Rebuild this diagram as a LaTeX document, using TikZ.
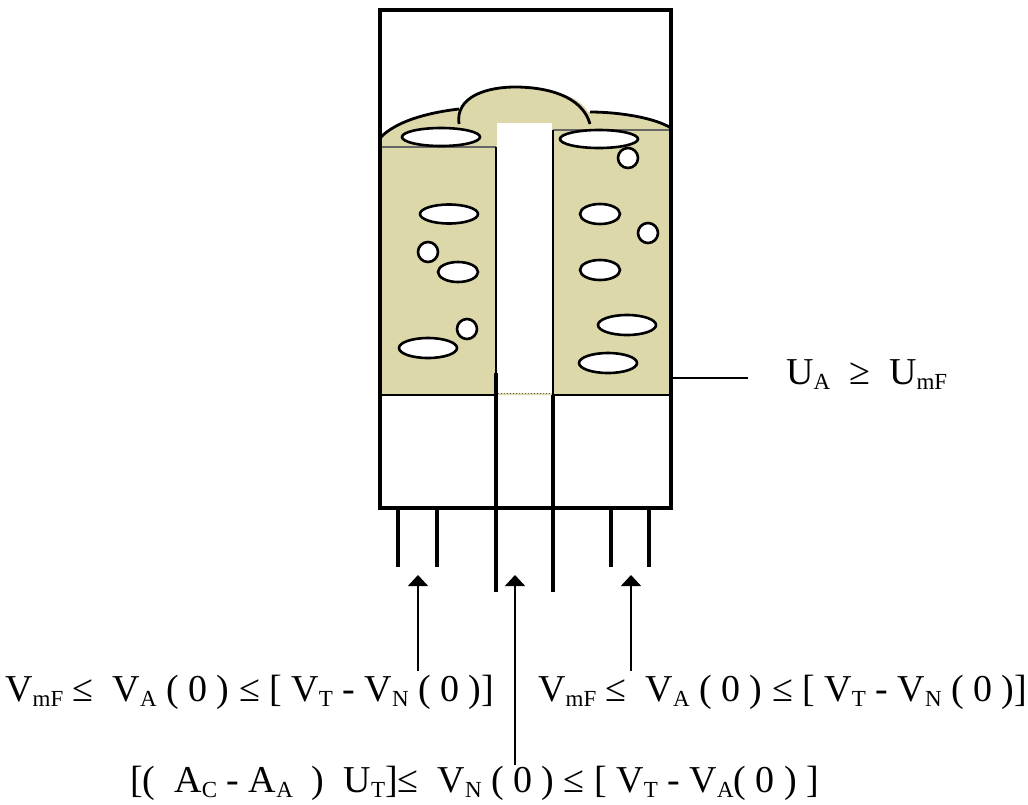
\documentclass[tikz,border=0pt]{standalone}
\usepackage{fontspec}
\setmainfont{Liberation Serif}
\usetikzlibrary{arrows.meta}

\definecolor{bedfill}{RGB}{220,216,170}
\newcommand{\lo}[1]{\raisebox{-0.3ex}{\fontsize{23}{23}\selectfont #1}}

\begin{document}
\begin{tikzpicture}[x=1pt,y=-1pt,
  wall/.style={line width=3.5pt},
  thinwall/.style={line width=1.3pt},
  bubble/.style={draw,line width=2.6pt,fill=white},
  feed/.style={line width=1.5pt,-{Triangle[length=11pt,width=20pt]}},
  formula/.style={font=\fontsize{38}{40}\selectfont,inner sep=0pt,anchor=base west}]

\useasboundingbox (0,0) rectangle (1028,804);

% Column walls and channel
\def\lft{380}
\def\rgt{671}
\def\chl{496}
\def\chr{553}
% Bed level
\def\bed{395}

% Bed with foam on top
\fill[bedfill] (\lft,\bed) -- (\lft,138) .. controls (395,122) and (425,113) .. (459,110)
  .. controls (466,92) and (490,87) .. (515,87) .. controls (545,87) and (580,95) .. (588,112)
  .. controls (620,112) and (655,118) .. (\rgt,128) -- (\rgt,\bed) -- cycle;
\fill[white] (\chl+1,123) rectangle (\chr-1,\bed-2);

% Foam outline
\draw[line width=2.8pt] (\lft,138) .. controls (395,122) and (425,113) .. (459,109);
\draw[line width=2.8pt] (459,124) .. controls (455,96) and (488,87) .. (515,87)
  .. controls (545,87) and (582,95) .. (590,124);
\draw[line width=2.8pt] (590,112) .. controls (620,112) and (655,118) .. (\rgt,128);

% Top of the two beds
\draw[thinwall,black!60] (\lft,147) -- (\chl,147);
\draw[thinwall,black!60] (\chr,130) -- (\rgt,130);

% Bubbles, left column
\draw[bubble] (441,137) ellipse [x radius=39, y radius=9];
\draw[bubble] (449,214) ellipse [x radius=29, y radius=9.5];
\draw[bubble] (428,252) circle [radius=10];
\draw[bubble] (458,272) ellipse [x radius=20, y radius=10];
\draw[bubble] (467,329) circle [radius=10];
\draw[bubble] (428,348) ellipse [x radius=29, y radius=10];

% Bubbles, right column
\draw[bubble] (599,139) ellipse [x radius=39, y radius=9];
\draw[bubble] (628,158) circle [radius=10];
\draw[bubble] (600,214) ellipse [x radius=20, y radius=10];
\draw[bubble] (648,233) circle [radius=10];
\draw[bubble] (600,270) ellipse [x radius=20, y radius=10];
\draw[bubble] (627,325) ellipse [x radius=29, y radius=10];
\draw[bubble] (608,363) ellipse [x radius=29, y radius=10];

% Outer box
\draw[wall] (\lft,508) -- (\lft,10) -- (\rgt,10) -- (\rgt,508) -- cycle;

% Channel walls
\draw[thinwall] (\chl,147) -- (\chl,373);
\draw[wall] (\chl,373) -- (\chl,592);
\draw[thinwall] (\chr,130) -- (\chr,\bed);
\draw[wall] (\chr,\bed) -- (\chr,592);

% Bed bottoms and channel level
\draw[line width=1.8pt] (\lft,\bed) -- (\chl,\bed);
\draw[line width=1.8pt] (\chr,\bed) -- (\rgt,\bed);
\draw[line width=1pt,dotted,black!60] (\chl+2,\bed-2) -- (\chr-2,\bed-2);

% Inlet pipes
\foreach \px in {398,437,611,649}
  \draw[wall] (\px,508) -- (\px,567);

% Conditions
\node[formula] (lhs) at (5,701) {V\lo{mF} ≤ ~V\lo{A} ( 0 ) ≤ [ V\lo{T} - V\lo{N} ( 0 )]};
\node[formula] (rhs) at (538,701) {V\lo{mF} ≤ ~V\lo{A} ( 0 ) ≤ [ V\lo{T} - V\lo{N} ( 0 )]};
\node[formula] (mid) at (130,792) {[( ~A\lo{C} - A\lo{A} ~) ~U\lo{T}]≤ ~V\lo{N} ( 0 ) ≤ [ V\lo{T} - V\lo{A}( 0 ) ]};
\node[formula] (cond) at (786,384) {U\lo{A} ~≥ ~U\lo{mF}};

% Feeds
\coordinate (in-left)  at (418,575);
\coordinate (in-mid)   at (515,575);
\coordinate (in-right) at (631,575);
\coordinate (lhs-top)  at (418,671);
\coordinate (mid-top)  at (515,765);
\coordinate (rhs-top)  at (631,671);
\draw[feed] (lhs-top) -- (in-left);
\draw[feed] (mid-top) -- (in-mid);
\draw[feed] (rhs-top) -- (in-right);

% Leader to condition
\coordinate (bed-edge) at (\rgt,378);
\coordinate (cond-end) at (748,378);
\draw[line width=1.5pt] (bed-edge) -- (cond-end);

\end{tikzpicture}
\end{document}
